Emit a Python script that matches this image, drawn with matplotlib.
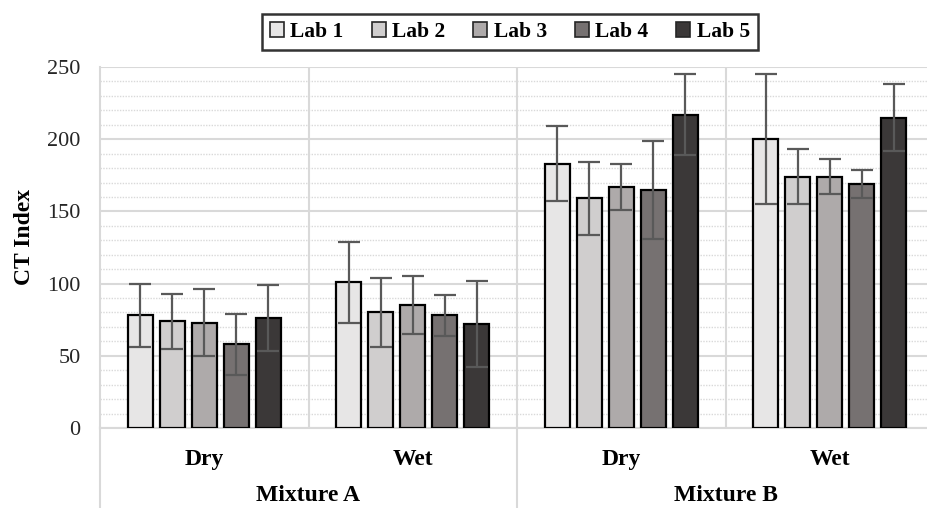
import matplotlib
matplotlib.use("Agg")
import matplotlib.pyplot as plt
import numpy as np

labs = ["Lab 1", "Lab 2", "Lab 3", "Lab 4", "Lab 5"]
conditions = ["Dry", "Wet", "Dry", "Wet"]
mixtures = ["Mixture A", "Mixture B"]
# values per lab across groups [A-Dry, A-Wet, B-Dry, B-Wet]
means = {
    "Lab 1": [78, 101, 183, 200],
    "Lab 2": [74, 80, 159, 174],
    "Lab 3": [73, 85, 167, 174],
    "Lab 4": [58, 78, 165, 169],
    "Lab 5": [76, 72, 217, 215],
}
errors = {
    "Lab 1": [22, 28, 26, 45],
    "Lab 2": [19, 24, 25, 19],
    "Lab 3": [23, 20, 16, 12],
    "Lab 4": [21, 14, 34, 10],
    "Lab 5": [23, 30, 28, 23],
}
colors = ["#e7e6e6", "#d0cece", "#aeaaaa", "#767171", "#3b3838"]

W, H = 927, 508
fig = plt.figure(figsize=(W / 100, H / 100), dpi=100)
ax = fig.add_axes([100 / W, 80 / H, 834 / W, 361 / H])

serif = ["Liberation Serif", "DejaVu Serif"]
grid_c = "#d9d9d9"

x = np.arange(len(conditions))
slot = 0.1535
bw = 0.12
for i, lab in enumerate(labs):
    off = (i - 2) * slot
    ax.bar(x + off, means[lab], width=bw, color=colors[i], edgecolor="black",
           linewidth=1.6, zorder=3, label=lab)
    ax.errorbar(x + off, means[lab], yerr=errors[lab], fmt="none",
                ecolor="#595959", elinewidth=1.6, capsize=8, capthick=1.6, zorder=4)

ax.set_xlim(-0.5, 3.5)
ax.set_ylim(0, 250)
ax.set_yticks(np.arange(0, 251, 50))
ax.set_yticks(np.arange(0, 251, 10), minor=True)
ax.grid(axis="y", which="major", color=grid_c, linewidth=1.5, zorder=0)
ax.grid(axis="y", which="minor", color=grid_c, linewidth=1.0, linestyle=(0, (1, 1)), zorder=0)
for sx in [0.5, 1.5, 2.5]:
    ax.axvline(sx, color=grid_c, linewidth=1.5, zorder=1)

for s in ["top", "right"]:
    ax.spines[s].set_visible(False)
ax.spines["left"].set_color(grid_c)
ax.spines["left"].set_linewidth(1.5)
ax.spines["bottom"].set_color(grid_c)
ax.spines["bottom"].set_linewidth(1.5)

ax.tick_params(axis="y", which="both", length=0, pad=14)
ax.tick_params(axis="x", which="both", length=0, labelbottom=False)
for t in ax.get_yticklabels():
    t.set_family(serif)
    t.set_fontsize(16)
    t.set_color("#262626")

trans = ax.get_xaxis_transform()
for xi, c in zip(x, conditions):
    ax.text(xi, -0.086, c, transform=trans, ha="center", va="center",
            family=serif, fontweight="bold", fontsize=17)
for j, m in enumerate(mixtures):
    ax.text(2 * j + 0.5, -0.186, m, transform=trans, ha="center", va="center",
            family=serif, fontweight="bold", fontsize=17)
for vx in [-0.5, 1.5, 3.5]:
    ax.plot([vx, vx], [0, -0.23], transform=trans, color=grid_c, linewidth=1.5,
            clip_on=False)

fig.text(25 / W, 1 - 237 / H, "CT Index", rotation=90, ha="center", va="center",
         family=serif, fontweight="bold", fontsize=17)

leg = fig.legend(loc="center", bbox_to_anchor=(510 / W, 1 - 32 / H), ncol=5,
                 frameon=True, fancybox=False, edgecolor="black",
                 handlelength=0.65, handleheight=0.65, handletextpad=0.3,
                 columnspacing=1.3, borderpad=0.35,
                 prop={"family": serif, "weight": "bold", "size": 15.5})
leg.get_frame().set_linewidth(1.8)
for h in leg.legend_handles:
    h.set_linewidth(1.2)
    h.set_edgecolor("#262626")

fig.savefig("out.png", dpi=100)
